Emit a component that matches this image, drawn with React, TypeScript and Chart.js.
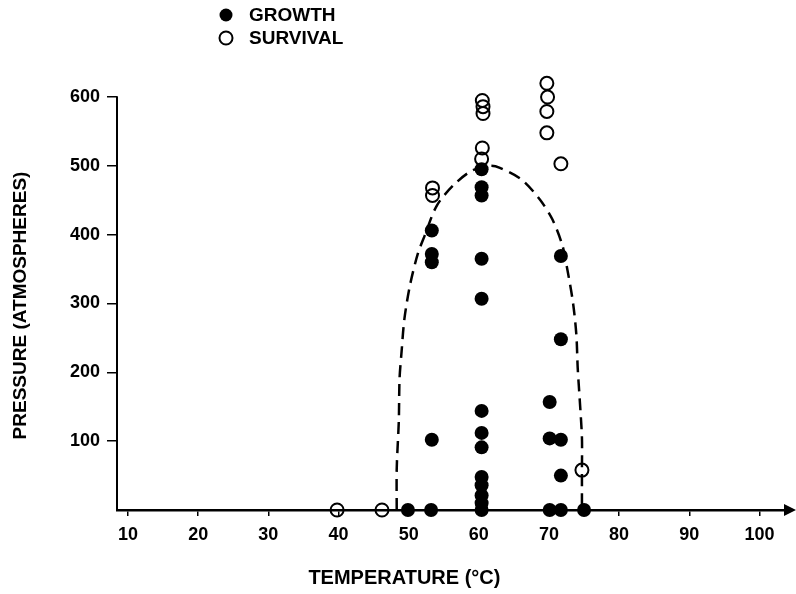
import React, { useEffect, useRef } from 'react';
import { Chart, registerables } from 'chart.js';

Chart.register(...registerables);

// Growth observations (filled circles): temperature (°C) and pressure (atm)
const GROWTH_TEMP = [
  49.9, 53.2, 53.3, 53.3, 53.3, 53.3,
  60.4, 60.4, 60.4, 60.4, 60.4, 60.4, 60.4, 60.4, 60.4, 60.4, 60.4, 60.4, 60.4,
  70.1, 70.1, 70.1,
  71.7, 71.7, 71.7, 71.7, 71.7,
  75.0,
];
const GROWTH_PRESSURE = [
  0, 0, 102, 360, 372, 406,
  0, 10, 21, 36, 48, 91, 112, 144, 307, 365, 457, 469, 495,
  0, 104, 157,
  0, 50, 102, 248, 369,
  0,
];

// Survival observations (open circles)
const SURVIVAL_TEMP = [39.8, 46.2, 53.4, 53.4, 60.4, 60.5, 60.6, 60.6, 60.5, 69.7, 69.7, 69.8, 69.7, 71.7, 74.7];
const SURVIVAL_PRESSURE = [0, 0, 457, 468, 510, 526, 576, 586, 595, 548, 579, 600, 620, 503, 58];

// Dashed boundary of the growth region
const BOUNDARY_TEMP = [
  48.3, 48.3, 48.6, 48.7, 49.0, 49.4, 50.2, 51.3, 52.3, 54.0, 56.3, 59.0, 61.6,
  63.0, 66.1, 68.7, 70.5, 71.9, 72.5, 73.4, 73.9, 74.1, 74.4, 74.7, 74.7, 74.7,
];
const BOUNDARY_PRESSURE = [
  0, 60, 130, 190, 231, 278, 327, 372, 399, 442, 471, 493, 500,
  497, 480, 451, 422, 385, 356, 303, 255, 206, 158, 105, 58, 0,
];

const X_TICKS = [10, 20, 30, 40, 50, 60, 70, 80, 90, 100];
const Y_TICKS = [100, 200, 300, 400, 500, 600];

const X_TITLE = 'TEMPERATURE (°C)';
const Y_TITLE = 'PRESSURE (ATMOSPHERES)';
const LEGEND_LABELS = ['GROWTH', 'SURVIVAL'];

const FONT = "'Liberation Sans', Arial, Helvetica, sans-serif";

const pairs = (xs: number[], ys: number[]) => xs.map((x, i) => ({ x, y: ys[i] }));

// Pressure axis line (stops at the top tick), temperature arrowhead,
// both axis titles and the stacked legend
const decorations = {
  id: 'decorations',
  beforeDatasetsDraw(chart: any) {
    const { ctx } = chart;
    const xs = chart.scales.x;
    const ys = chart.scales.y;
    ctx.save();
    ctx.strokeStyle = '#000';
    ctx.lineWidth = 2;
    ctx.beginPath();
    ctx.moveTo(xs.left, ys.getPixelForValue(0));
    ctx.lineTo(xs.left, ys.getPixelForValue(Y_TICKS[Y_TICKS.length - 1]) - 0.75);
    ctx.stroke();
    ctx.restore();
  },
  afterDraw(chart: any) {
    const { ctx } = chart;
    const xs = chart.scales.x;
    const ys = chart.scales.y;
    const y0 = ys.getPixelForValue(0);
    const yTop = ys.getPixelForValue(Y_TICKS[Y_TICKS.length - 1]);
    ctx.save();
    ctx.fillStyle = '#000';
    ctx.strokeStyle = '#000';

    ctx.lineWidth = 2.5;
    ctx.beginPath();
    ctx.moveTo(xs.right, y0);
    ctx.lineTo(chart.width - 6, y0);
    ctx.stroke();
    ctx.beginPath();
    ctx.moveTo(chart.width, y0);
    ctx.lineTo(chart.width - 12, y0 - 6);
    ctx.lineTo(chart.width - 12, y0 + 6);
    ctx.closePath();
    ctx.fill();

    ctx.font = `bold 20px ${FONT}`;
    ctx.textAlign = 'center';
    ctx.textBaseline = 'middle';
    ctx.fillText(X_TITLE, xs.getPixelForValue(49.4), chart.height - 16);

    ctx.save();
    ctx.font = `bold 19px ${FONT}`;
    ctx.translate(21, (y0 + yTop) / 2 + 2);
    ctx.rotate(-Math.PI / 2);
    ctx.fillText(Y_TITLE, 0, 0);
    ctx.restore();

    ctx.font = `bold 19px ${FONT}`;
    ctx.textAlign = 'left';
    LEGEND_LABELS.forEach((label, i) => {
      const cy = 15 + i * 23;
      ctx.beginPath();
      ctx.arc(226, cy, 6.5, 0, Math.PI * 2);
      if (i === 0) {
        ctx.fill();
      } else {
        ctx.lineWidth = 2;
        ctx.stroke();
      }
      ctx.fillText(label, 249, cy + 1);
    });
    ctx.restore();
  },
};

export default function App() {
  const ref = useRef<HTMLCanvasElement | null>(null);

  useEffect(() => {
    if (!ref.current) return;
    const chart = new Chart(ref.current, {
      type: 'scatter',
      data: {
        datasets: [
          {
            label: LEGEND_LABELS[0],
            data: pairs(GROWTH_TEMP, GROWTH_PRESSURE),
            pointRadius: 7,
            pointBackgroundColor: '#000',
            pointBorderColor: '#000',
            pointBorderWidth: 0,
            clip: false,
            order: 2,
          },
          {
            label: LEGEND_LABELS[1],
            data: pairs(SURVIVAL_TEMP, SURVIVAL_PRESSURE),
            pointRadius: 6.5,
            pointBackgroundColor: 'rgba(0,0,0,0)',
            pointBorderColor: '#000',
            pointBorderWidth: 2,
            clip: false,
            order: 1,
          },
          {
            type: 'line',
            label: 'boundary',
            data: pairs(BOUNDARY_TEMP, BOUNDARY_PRESSURE),
            showLine: true,
            borderColor: '#000',
            borderWidth: 2.5,
            borderDash: [12, 7],
            pointRadius: 0,
            tension: 0.3,
            fill: false,
            clip: false,
            order: 3,
          } as any,
        ],
      },
      options: {
        animation: false,
        responsive: false,
        devicePixelRatio: 1,
        layout: { padding: { top: 69.5, right: 0, left: 0, bottom: 0 } },
        plugins: {
          legend: { display: false },
          tooltip: { enabled: false },
        },
        scales: {
          x: {
            type: 'linear',
            min: 8.43,
            max: 104.0,
            afterBuildTicks: (s: any) => {
              s.ticks = X_TICKS.map((v) => ({ value: v }));
            },
            afterFit: (s: any) => {
              s.height = 84;
            },
            grid: { drawOnChartArea: false, drawTicks: true, tickLength: 6, color: '#000', lineWidth: 1.5 },
            border: { display: true, color: '#000', width: 2.5 },
            ticks: {
              color: '#000',
              padding: 8,
              font: { family: FONT, size: 18, weight: 'bold' },
              callback: (v: any) => String(v),
            },
            title: { display: false },
          },
          y: {
            type: 'linear',
            min: 0,
            max: 640,
            afterBuildTicks: (s: any) => {
              s.ticks = Y_TICKS.map((v) => ({ value: v }));
            },
            afterFit: (s: any) => {
              s.width = 117;
            },
            grid: { drawOnChartArea: false, drawTicks: true, tickLength: 10, color: '#000', lineWidth: 1.5 },
            border: { display: false },
            ticks: {
              color: '#000',
              padding: 7,
              font: { family: FONT, size: 18, weight: 'bold' },
              callback: (v: any) => String(v),
            },
            title: { display: false },
          },
        },
      },
      plugins: [decorations],
    });
    return () => chart.destroy();
  }, []);

  return (
    <div style={{ position: 'absolute', left: 0, top: 0, width: 796, height: 594, background: '#fff' }}>
      <canvas ref={ref} width={796} height={594} />
    </div>
  );
}
